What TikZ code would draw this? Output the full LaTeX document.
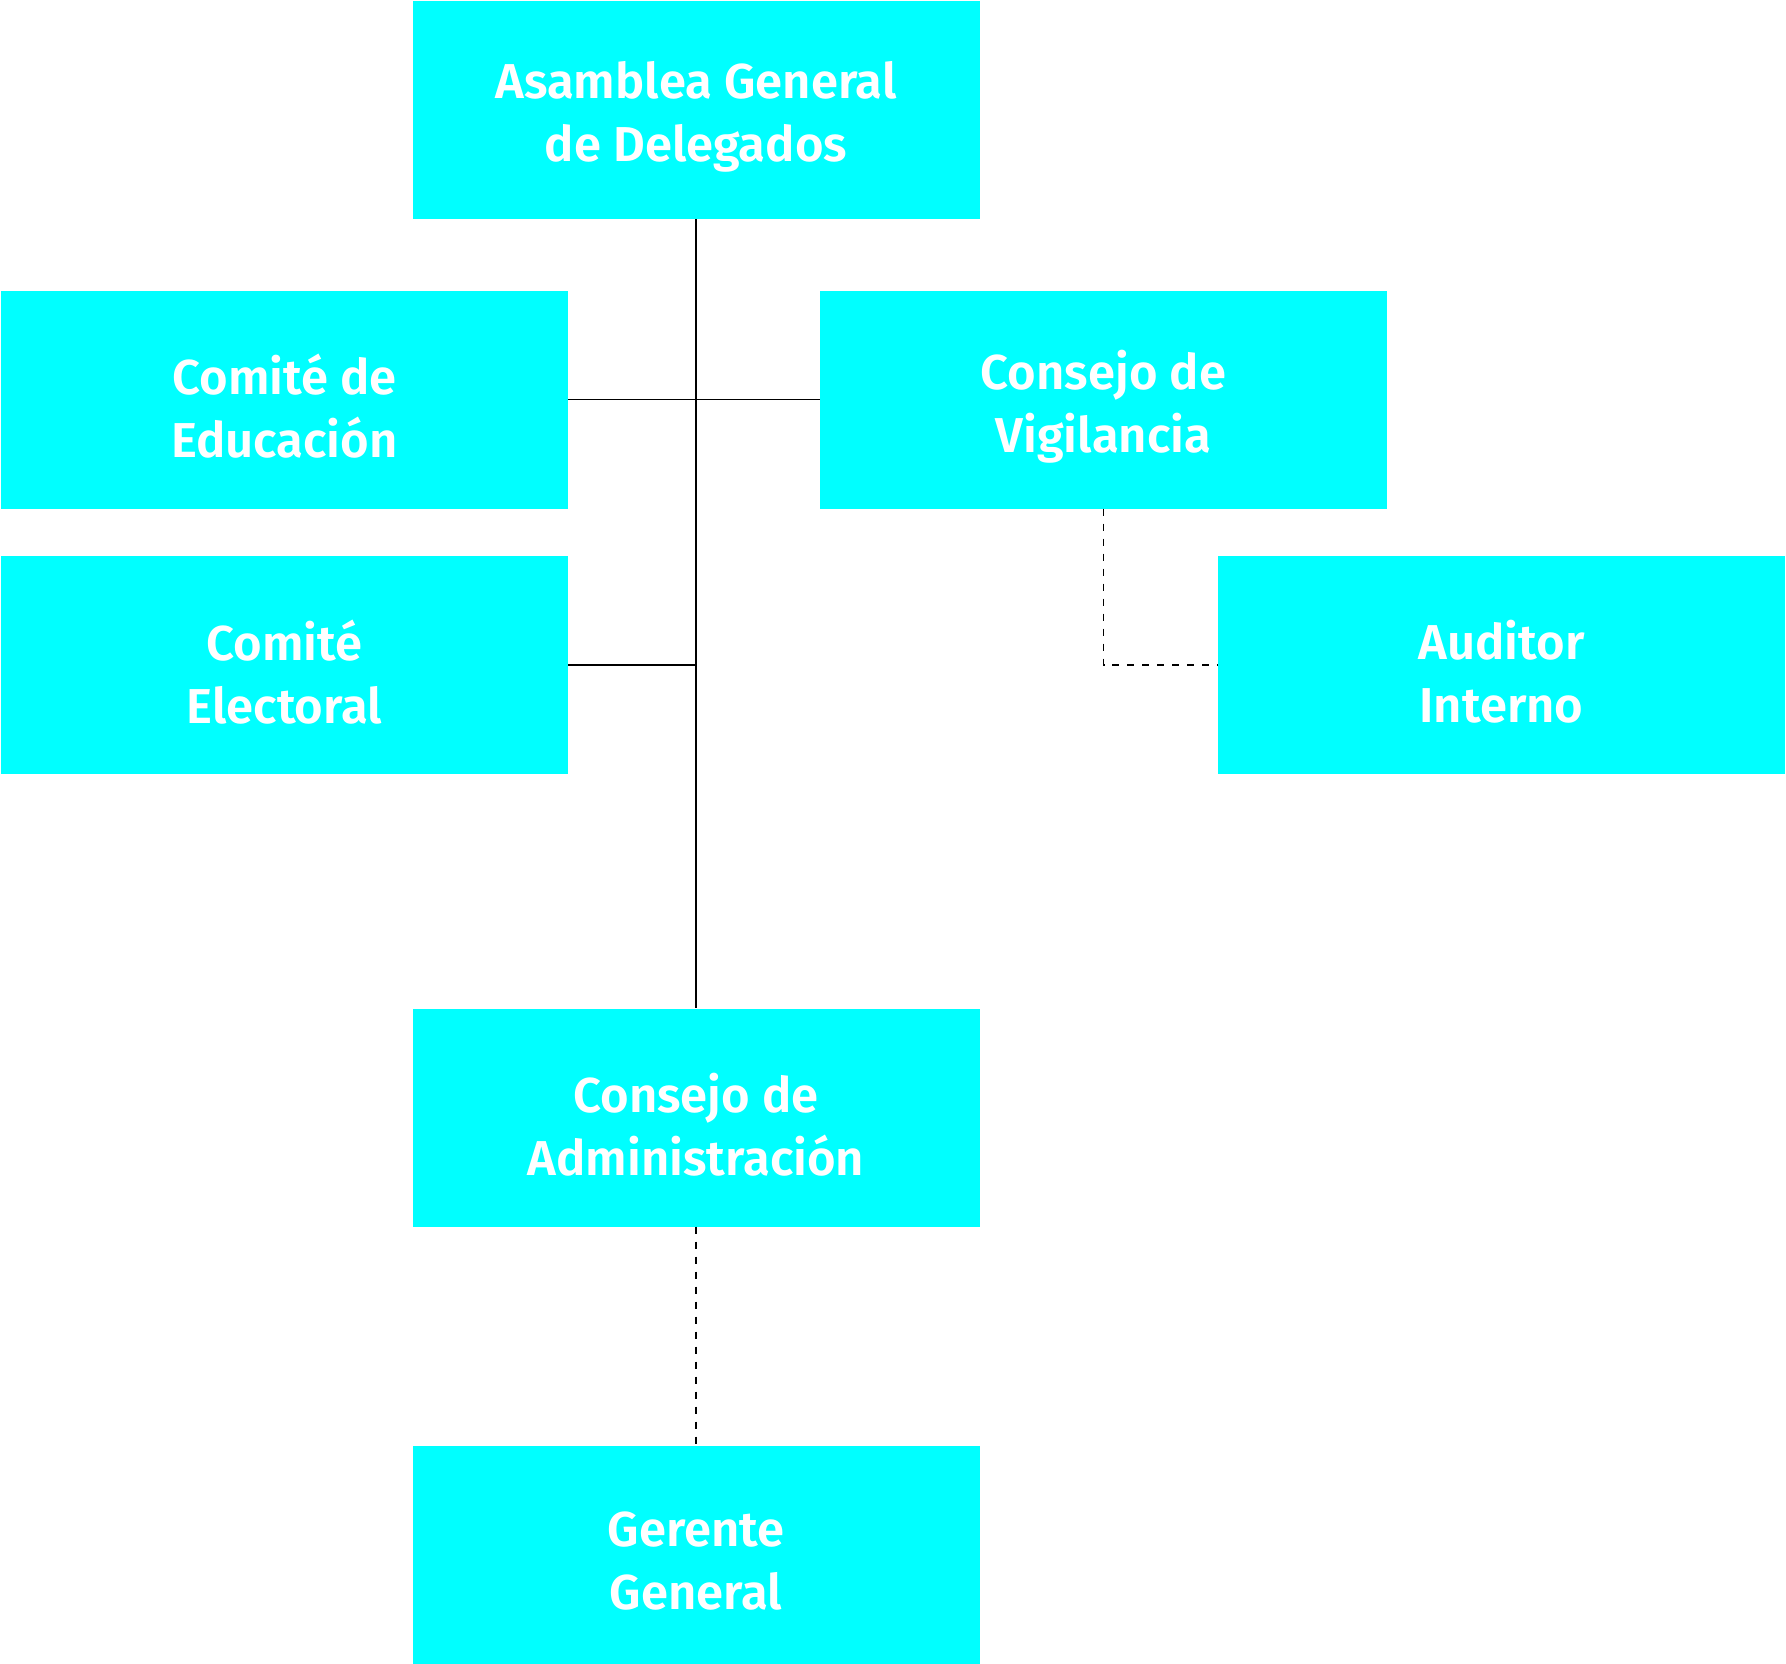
\documentclass[tikz,border=0pt]{standalone}
\usepackage{fontspec}
\setmainfont{Fira Sans SemiBold}
\definecolor{boxcyan}{RGB}{0,255,255}
\begin{document}
\begin{tikzpicture}[x=1pt,y=-1pt,
 box/.style={fill=boxcyan, minimum width=567pt, minimum height=218pt, inner sep=0pt},
 txt/.style={inner sep=0pt, text=white, align=center, font=\fontsize{49}{63}\selectfont},
 conn/.style={line width=1.5pt, black},
 dconn/.style={conn, dash pattern=on 7pt off 8pt}]
\useasboundingbox (0,0) rectangle (1786,1664);
\node[box] (asam) at (696,110) {};
\node[box] (edu) at (284.5,399.5) {};
\node[box] (vig) at (1103.5,399.5) {};
\node[box] (elec) at (284.5,665) {};
\node[box] (aud) at (1501.5,665) {};
\node[box] (admin) at (696,1117.5) {};
\node[box] (ger) at (696,1554.5) {};
\node[txt] (asamt) at ([yshift=-7pt]asam.center) {Asamblea General\\de Delegados};
\node[txt] (edut) at ([yshift=-7pt]edu.center) {Comité de\\Educación};
\node[txt] (vigt) at ([yshift=-7pt]vig.center) {Consejo de\\Vigilancia};
\node[txt] (elect) at ([yshift=-7pt]elec.center) {Comité\\Electoral};
\node[txt] (audt) at ([yshift=-7pt]aud.center) {Auditor\\Interno};
\node[txt] (admint) at ([yshift=-7pt]admin.center) {Consejo de\\Administración};
\node[txt] (gert) at ([yshift=-7pt]ger.center) {Gerente\\General};
\draw[conn] (asam.south) -- (admin.north);
\draw[conn] (edu.east) -- (vig.west);
\draw[conn] (elec.east) -- (elec.east -| asam.south);
\draw[dconn] (vig.south) |- (aud.west);
\draw[dconn] (admin.south) -- (ger.north);
\end{tikzpicture}
\end{document}
